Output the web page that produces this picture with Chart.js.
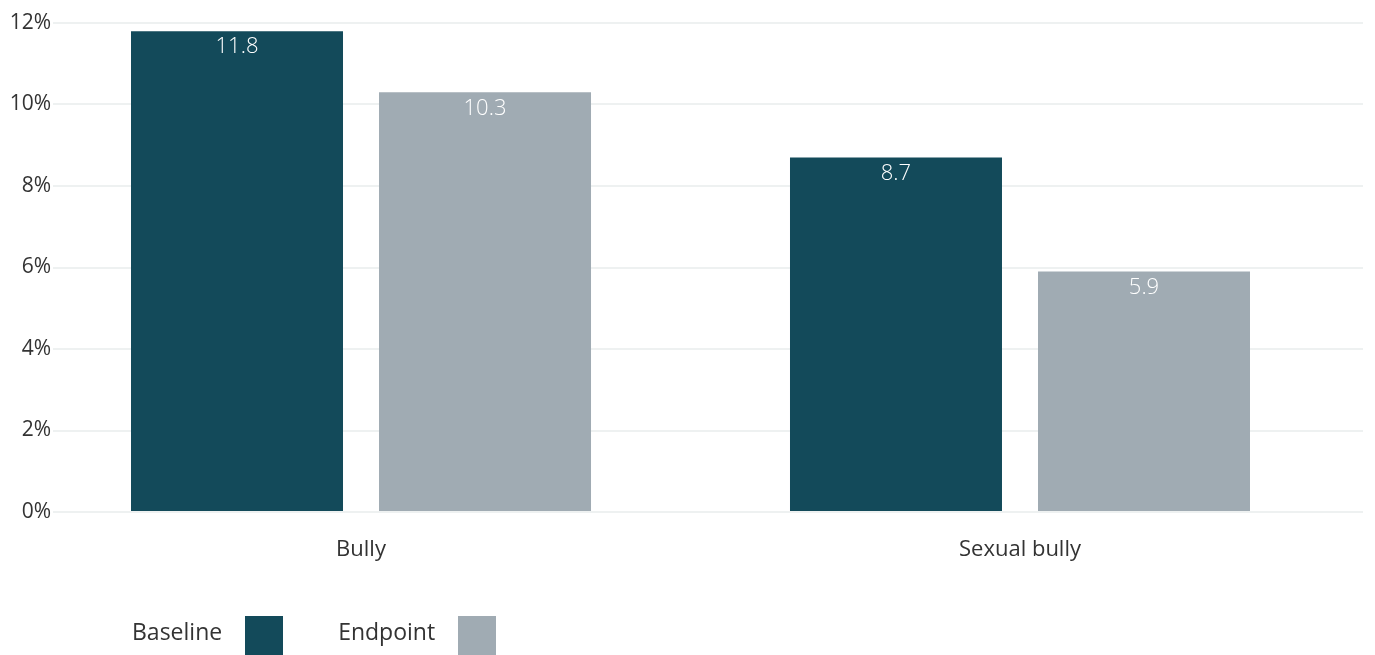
<!DOCTYPE html>
<html>
<head>
<meta charset="utf-8">
<script src="https://cdn.jsdelivr.net/npm/chart.js@4"></script>
<style>
  html, body { margin: 0; padding: 0; background: #fff; }
  #wrap { position: relative; width: 1375px; height: 655px; overflow: hidden; }
  #legend { position: absolute; left: 132px; top: 616px; display: flex; font-family: 'Open Sans', sans-serif; font-size: 23px; color: #333; }
  #legend .item { display: flex; align-items: flex-start; margin-right: 55px; }
  #legend .item span:first-child { line-height: 30px; }
  #legend .box { width: 38px; height: 39px; margin-left: 23px; }
</style>
</head>
<body>
<div id="wrap">
  <canvas id="myChart" width="1375" height="655"></canvas>
  <div id="legend"></div>
</div>
<script>
const categories = ['Bully', 'Sexual bully'];
const baseline = [11.8, 8.7];
const endpoint = [10.3, 5.9];
const yTicks = [0, 2, 4, 6, 8, 10, 12];

const colors = { baseline: '#134a5a', endpoint: '#a0abb3' };
const font = "'Open Sans', sans-serif";

const toPoints = (vals) => vals.map((v, i) => ({ x: i, y: v }));

// white value labels just under each bar top
const barLabels = {
  id: 'barLabels',
  afterDatasetsDraw(chart) {
    const { ctx } = chart;
    ctx.save();
    ctx.fillStyle = '#fff';
    ctx.font = '300 22px ' + font;
    ctx.textAlign = 'center';
    ctx.textBaseline = 'middle';
    chart.data.datasets.forEach((ds, d) => {
      chart.getDatasetMeta(d).data.forEach((bar, i) => {
        ctx.fillText(ds.data[i].y.toFixed(1), bar.x, bar.y + 16);
      });
    });
    ctx.restore();
  }
};

const ctx = document.getElementById('myChart');

const chart = new Chart(ctx, {
  type: 'bar',
  data: {
    datasets: [{
      label: 'Baseline',
      data: toPoints(baseline),
      backgroundColor: colors.baseline
    }, {
      label: 'Endpoint',
      data: toPoints(endpoint),
      backgroundColor: colors.endpoint
    }]
  },
  options: {
    responsive: false,
    animation: false,
    categoryPercentage: 0.7527,
    barPercentage: 0.8548,
    layout: { padding: { top: 23, right: 12, left: 0, bottom: 0 } },
    scales: {
      x: {
        type: 'linear',
        offset: false,
        min: -0.4674,
        max: 1.5205,
        afterBuildTicks(scale) {
          scale.ticks = categories.map((c, i) => ({ value: i }));
        },
        afterFit(scale) { scale.height = 143; },
        ticks: {
          padding: 17,
          color: '#333',
          font: { family: font, size: 22 },
          callback: (v) => categories[v]
        },
        grid: { display: false },
        border: { display: false }
      },
      y: {
        min: 0,
        max: 12,
        afterBuildTicks(scale) {
          scale.ticks = yTicks.map(v => ({ value: v }));
        },
        afterFit(scale) { scale.width = 53; },
        ticks: {
          padding: 2,
          color: '#333',
          font: { family: font, size: 21 },
          callback: (v) => v + '%'
        },
        grid: { color: '#eef1f1', lineWidth: 2, drawTicks: false },
        border: { display: false }
      }
    },
    plugins: {
      legend: { display: false },
      tooltip: { enabled: false }
    }
  },
  plugins: [barLabels]
});

// legend: label text followed by a colour box
const legend = document.getElementById('legend');
chart.data.datasets.forEach(ds => {
  const item = document.createElement('div');
  item.className = 'item';
  const txt = document.createElement('span');
  txt.textContent = ds.label;
  const box = document.createElement('span');
  box.className = 'box';
  box.style.background = ds.backgroundColor;
  item.appendChild(txt);
  item.appendChild(box);
  legend.appendChild(item);
});
</script>
</body>
</html>
